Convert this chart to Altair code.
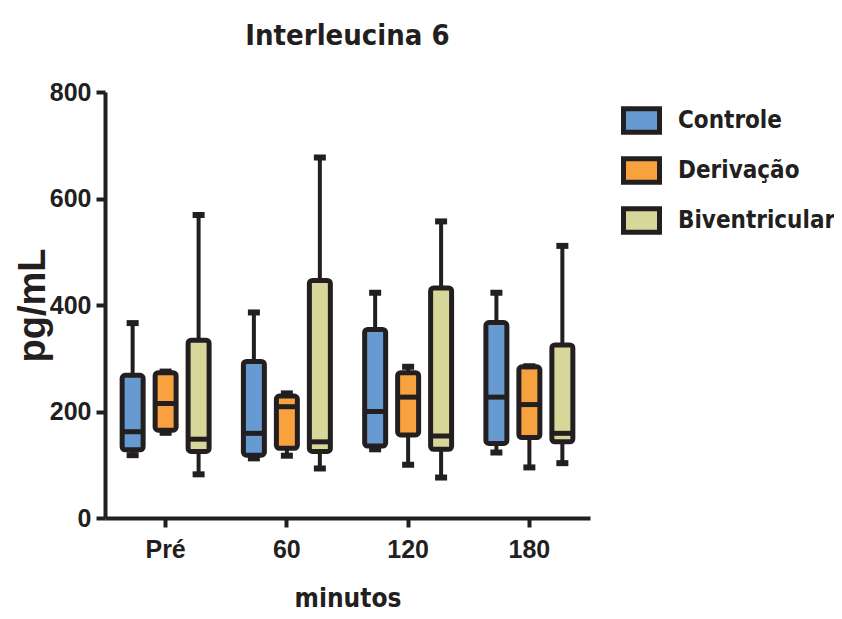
import altair as alt
import pandas as pd

times = ["Pré", "60", "120", "180"]
groups = ["Controle", "Derivação", "Biventricular"]
colors = ["#679AD1", "#F7A13F", "#D8D79A"]

ctrl_min = [118, 112, 129, 123]
ctrl_q1 = [128, 118, 135, 140]
ctrl_med = [162, 159, 200, 227]
ctrl_q3 = [268, 294, 354, 367]
ctrl_max = [366, 386, 423, 423]

deriv_min = [160, 117, 100, 95]
deriv_q1 = [165, 131, 156, 151]
deriv_med = [215, 209, 227, 213]
deriv_q3 = [273, 229, 273, 284]
deriv_max = [275, 234, 284, 285]

biv_min = [82, 93, 76, 103]
biv_q1 = [125, 125, 129, 143]
biv_med = [148, 143, 154, 159]
biv_q3 = [334, 446, 432, 325]
biv_max = [569, 677, 557, 511]

stats = {
    "Controle": (ctrl_min, ctrl_q1, ctrl_med, ctrl_q3, ctrl_max),
    "Derivação": (deriv_min, deriv_q1, deriv_med, deriv_q3, deriv_max),
    "Biventricular": (biv_min, biv_q1, biv_med, biv_q3, biv_max),
}

rows = []
for g in groups:
    mn, q1, md, q3, mx = stats[g]
    for i, t in enumerate(times):
        rows.append({"time": t, "group": g, "min": mn[i], "q1": q1[i],
                     "median": md[i], "q3": q3[i], "max": mx[i]})
df = pd.DataFrame(rows)

FONT = "DejaVu Sans Condensed, Liberation Sans Narrow, sans-serif"
NUMFONT = "Liberation Sans, Arial, sans-serif"
INK = "#231f20"

x = alt.X("time:N", sort=times, title="minutos",
          scale=alt.Scale(paddingInner=0, paddingOuter=0),
          axis=alt.Axis(labelAngle=0, titleY=88, titleBaseline="alphabetic"))
xo = alt.XOffset("group:N", sort=groups,
                 scale=alt.Scale(paddingInner=0.364, paddingOuter=0.52))
yscale = alt.Scale(domain=[0, 800], nice=False)

base = alt.Chart(df)

whisk = base.mark_rule(color=INK, strokeWidth=4).encode(
    x=x, xOffset=xo,
    y=alt.Y("min:Q", scale=yscale, title="pg/mL",
            axis=alt.Axis(values=[0, 200, 400, 600, 800], titleX=-72,
                          titleBaseline="middle", titleFont="Liberation Sans",
                          titleFontSize=38)),
    y2="max:Q",
)

caps_lo = base.mark_tick(color=INK, size=12, thickness=6, opacity=1).encode(
    x=x, xOffset=xo, y=alt.Y("min:Q", scale=yscale))
caps_hi = base.mark_tick(color=INK, size=12, thickness=6, opacity=1).encode(
    x=x, xOffset=xo, y=alt.Y("max:Q", scale=yscale))

boxes = base.mark_bar(stroke=INK, strokeWidth=5, cornerRadius=3, opacity=1).encode(
    x=x, xOffset=xo,
    y=alt.Y("q1:Q", scale=yscale),
    y2="q3:Q",
    fill=alt.Fill("group:N", sort=groups,
                  scale=alt.Scale(domain=groups, range=colors),
                  legend=alt.Legend(title=None, orient="none", legendX=516, legendY=8,
                                    symbolType="M-1,-0.65H1V0.65H-1Z",
                                    symbolSize=1296, symbolStrokeColor=INK,
                                    symbolStrokeWidth=5, symbolOpacity=1,
                                    labelFont=FONT, labelFontSize=24,
                                    labelFontWeight="bold", labelColor=INK,
                                    labelLimit=0,
                                    labelOffset=16, rowPadding=5, padding=0)),
)

medians = base.mark_tick(color=INK, size=22, thickness=5, opacity=1).encode(
    x=x, xOffset=xo, y=alt.Y("median:Q", scale=yscale))

chart = alt.layer(whisk, boxes, medians, caps_lo, caps_hi).properties(
    width=485, height=426,
    autosize=alt.AutoSizeParams(type="none"),
    padding={"left": 97, "top": 84, "right": 244, "bottom": 93},
    title=alt.TitleParams("Interleucina 6", font=FONT, fontSize=29,
                          fontWeight="bold", color=INK, anchor="middle",
                          frame="group", baseline="bottom", offset=0),
).configure_view(stroke=None).configure_axis(
    domainColor=INK, domainWidth=4, tickColor=INK, tickWidth=4, tickSize=9,
    labelFont=NUMFONT, labelFontSize=25, labelFontWeight="bold", labelColor=INK,
    titleFont=FONT, titleFontSize=26, titleFontWeight="bold", titleColor=INK,
    grid=False, labelPadding=5,
).configure_axisX(labelPadding=10)

chart.save("out.html", embed_options={"renderer": "svg", "actions": False})
